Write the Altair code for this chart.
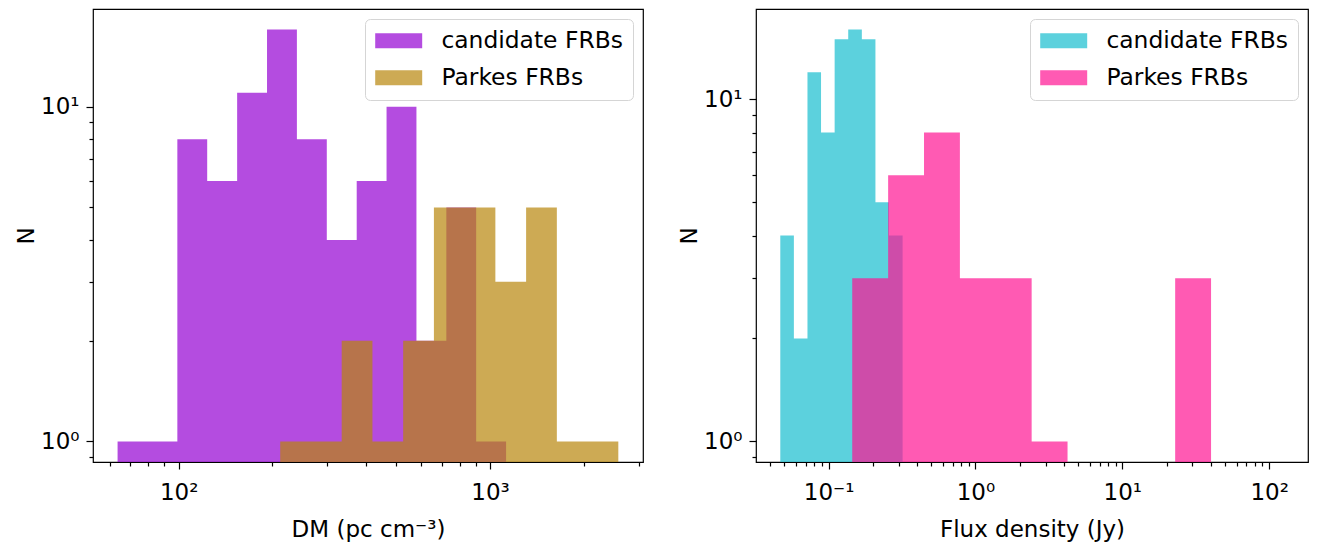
import altair as alt
import pandas as pd

FONT = "DejaVu Sans"
SERIES = ["candidate FRBs", "Parkes FRBs"]

# ---- DM histogram (left panel) ----
DM_CAND_EDGES = [63.67, 79.41, 99.04, 123.5, 154.1, 192.2, 239.7, 299.0, 373.0,
                 465.1, 580.1, 723.6, 902.2, 1125.6]
DM_CAND_COUNTS = [1, 1, 8, 6, 11, 17, 8, 4, 6, 10, 2, 5, 1]
DM_PARKES_EDGES = [211.9, 266.0, 333.8, 419.0, 525.9, 660.1, 828.4, 1039.7,
                   1305.1, 1638.0, 2056.0, 2580.4]
DM_PARKES_COUNTS = [1, 1, 2, 1, 2, 5, 5, 3, 5, 1, 1]
DM_COLORS = ["darkviolet", "darkgoldenrod"]
DM_X_DOMAIN = [53.09, 3097.0]
DM_Y_DOMAIN = [0.8682, 19.58]

# ---- Flux density histogram (right panel) ----
FLUX_CAND_EDGES = [0.04684, 0.05796, 0.07173, 0.08874, 0.10985, 0.13593,
                   0.16827, 0.20826, 0.25768, 0.31891]
FLUX_CAND_COUNTS = [4, 2, 12, 8, 15, 16, 15, 5, 4]
FLUX_PARKES_EDGES = [0.14474, 0.25416, 0.44616, 0.78311, 1.3746, 2.4131,
                     4.2364, 7.4336, 13.054, 22.914, 40.219]
FLUX_PARKES_COUNTS = [3, 6, 8, 3, 3, 1, 0, 0, 0, 3]
FLUX_COLORS = ["#17becf", "deeppink"]
FLUX_X_DOMAIN = [0.0320, 183.98]
FLUX_Y_DOMAIN = [0.8707, 18.38]

# ---- ticks ----
DM_MAJOR = [100, 1000]
DM_MAJOR_LABELS = ["10²", "10³"]
DM_MINOR = [60, 70, 80, 90, 200, 300, 400, 500, 600, 700, 800, 900, 2000, 3000]
FLUX_MAJOR = [0.1, 1, 10, 100]
FLUX_MAJOR_LABELS = ["10⁻¹", "10⁰", "10¹", "10²"]
FLUX_MINOR = [0.04, 0.05, 0.06, 0.07, 0.08, 0.09,
              0.2, 0.3, 0.4, 0.5, 0.6, 0.7, 0.8, 0.9,
              2, 3, 4, 5, 6, 7, 8, 9,
              20, 30, 40, 50, 60, 70, 80, 90]
N_MAJOR = [1, 10]
N_MAJOR_LABELS = ["10⁰", "10¹"]
N_MINOR = [0.9, 2, 3, 4, 5, 6, 7, 8, 9]

FS = 23


def label_expr(vals, labels):
    parts = [f"datum.value == {v} ? '{l}'" for v, l in zip(vals, labels)]
    return " : ".join(parts) + " : ''"


def make_axis(title, major, labels, minor, is_x):
    cond = "indexof([" + ",".join(str(v) for v in major) + "], datum.value) >= 0"
    return alt.Axis(
        title=title,
        values=major + minor,
        labelExpr=label_expr(major, labels),
        tickSize={"condition": {"test": cond, "value": 7}, "value": 4},
        tickWidth=1.2,
        tickColor="black",
        domain=False,
        grid=False,
        labelOverlap=False,
        labelFlush=False,
        labelFont=FONT,
        labelFontSize=FS,
        labelColor="black",
        labelPadding=12 if is_x else 7,
        titleFont=FONT,
        titleFontSize=FS,
        titleFontWeight="normal",
        titleColor="black",
        titlePadding=14 if is_x else 2,
    )


def step_df(edges, counts, name, base):
    # one point per bin's left edge, plus the closing right edge (step-after)
    ys = [c if c > 0 else base for c in counts]
    ys.append(ys[-1])
    return pd.DataFrame({"series": name, "edge": list(edges), "n": ys})


def panel(cand_e, cand_c, park_e, park_c, colors, xdom, ydom, xaxis, yaxis, width):
    color = alt.Color(
        "series:N",
        scale=alt.Scale(domain=SERIES, range=colors),
        legend=alt.Legend(
            title=None,
            orient="top-right",
            offset=10,
            padding=10,
            fillColor="white",
            strokeColor="#d5d5d5",
            cornerRadius=5,
            symbolType="M-2.043,-0.652L2.043,-0.652L2.043,0.652L-2.043,0.652Z",
            symbolSize=529,
            symbolOffset=12,
            symbolOpacity=0.7,
            symbolStrokeWidth=0,
            labelFont=FONT,
            labelFontSize=23.4,
            labelColor="black",
            labelOffset=31,
            labelLimit=400,
            rowPadding=12,
        ),
    )

    def layer(df):
        return alt.Chart(df).mark_area(interpolate="step-after", opacity=0.7).encode(
            x=alt.X("edge:Q", scale=alt.Scale(type="log", domain=xdom, nice=False, zero=False), axis=xaxis),
            y=alt.Y("n:Q", scale=alt.Scale(type="log", domain=ydom, nice=False, zero=False), axis=yaxis),
            y2=alt.datum(ydom[0]),
            color=color,
        )

    return alt.layer(
        layer(step_df(cand_e, cand_c, SERIES[0], ydom[0])),
        layer(step_df(park_e, park_c, SERIES[1], ydom[0])),
    ).properties(width=width, height=453)


left = panel(
    DM_CAND_EDGES, DM_CAND_COUNTS, DM_PARKES_EDGES, DM_PARKES_COUNTS, DM_COLORS,
    DM_X_DOMAIN, DM_Y_DOMAIN,
    make_axis("DM (pc cm⁻³)", DM_MAJOR, DM_MAJOR_LABELS, DM_MINOR, True),
    make_axis("N", N_MAJOR, N_MAJOR_LABELS, N_MINOR, False),
    550,
)
right = panel(
    FLUX_CAND_EDGES, FLUX_CAND_COUNTS, FLUX_PARKES_EDGES, FLUX_PARKES_COUNTS, FLUX_COLORS,
    FLUX_X_DOMAIN, FLUX_Y_DOMAIN,
    make_axis("Flux density (Jy)", FLUX_MAJOR, FLUX_MAJOR_LABELS, FLUX_MINOR, True),
    make_axis("N", N_MAJOR, N_MAJOR_LABELS, N_MINOR, False),
    552,
)

chart = (
    alt.hconcat(left, right, spacing=33)
    .resolve_scale(x="independent", y="independent", color="independent")
    .properties(padding={"left": 6, "top": 0, "right": 0, "bottom": 0}, background="white")
    .configure_view(stroke="black", strokeWidth=1.2)
    .configure_legend(strokeWidth=1)
)

chart.save("out.html", embed_options={"renderer": "svg", "actions": False})
